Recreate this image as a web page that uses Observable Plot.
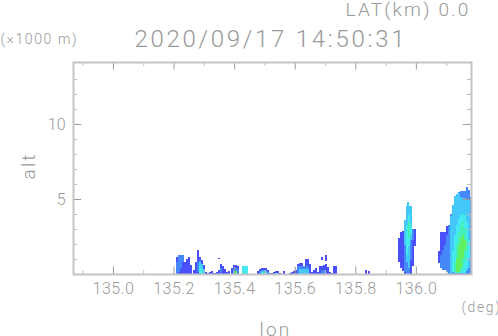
<!DOCTYPE html>
<html><head><meta charset="utf-8">
<script src="https://cdn.jsdelivr.net/npm/d3@7"></script>
<script src="https://cdn.jsdelivr.net/npm/@observablehq/plot@0.6"></script>
<style>html,body{margin:0;padding:0;background:#fff}svg{display:block}
.sp1 text{letter-spacing:1.6px}.sp2 text{letter-spacing:2.2px}.sp3 text{letter-spacing:2.7px}.spt text{letter-spacing:.5px}</style>
</head><body><div id="c"></div>
<script>
const lonTicks=[135.0,135.2,135.4,135.6,135.8,136.0];
const lonMinor=[134.9,135.1,135.3,135.5,135.7,135.9,136.1];
const altTicks=[5,10];
const altMinor=[1,2,3,4,6,7,8,9,11,12,13];
const lonDomain=[134.868,136.182];
const altDomain=[0,14.13];
const cellWidth=0.0066;

// each row: [lon, alt low, alt high]
const blue=[
[135.941,.8,2.4],[135.947,.4,2.8],[135.954,.2,2.87],[135.960,0,2.8],[135.967,0,3],[135.974,0,3],[135.980,0,3],[135.987,.53,3],[135.993,1.87,3],
[136.073,.73,1.53],[136.079,.4,2.8],[136.086,.27,2.8],[136.092,.27,2.8],[136.099,.13,3.2],[136.106,0,3.2],
[135.208,0,1.13],[135.215,0,1.27],[135.221,0,1.27],[135.228,0,1.27],[135.234,0,.8],[135.241,0,1],[135.248,0,1.13],[135.254,0,.6],
[135.264,0,.27],[135.271,0,.8],[135.277,0,1.6],[135.284,0,1.13],[135.290,0,.93],[135.297,0,.6],[135.304,0,.13],[135.310,0,.07],[135.317,0,.13],[135.323,0,.2],[135.330,0,.07],[135.337,0,.07],
[135.340,0,.13],[135.347,0,.27],[135.353,0,.67],[135.360,0,.53],[135.366,0,.33],[135.373,0,.13],[135.380,0,.2],[135.389,0,.4],[135.396,0,.6],[135.403,0,.6],[135.409,0,.53],
[135.475,0,.2],[135.482,0,.33],[135.488,0,.4],[135.495,0,.4],[135.502,0,.4],[135.508,0,.27],[135.515,0,.07],[135.521,0,.07],[135.528,0,.13],[135.535,0,.2],[135.541,0,.2],[135.548,0,.07],[135.561,0,.2],
[135.581,0,.07],[135.587,0,.13],[135.594,0,.2],[135.601,0,.27],[135.607,0,.67],[135.614,0,.73],[135.620,0,.73],[135.627,0,.53],[135.634,0,1],[135.640,0,1],[135.647,0,.67],[135.653,0,.13],[135.660,0,.27],[135.667,0,.4],[135.673,0,.13],[135.680,0,.53],[135.686,0,.53],[135.693,0,.6],[135.700,0,.67],[135.706,0,.47],[135.713,0,.13],[135.719,0,.07],[135.726,0,.53],[135.733,0,.53],
[135.686,.93,1.13],[135.700,.87,1.27],[135.347,1,1.07],[135.832,0,.27],[135.842,0,.2]
];
const medium=[
[135.960,.13,2.67],[135.967,0,3.47],[135.974,0,3.93],[135.980,.93,3.93],[135.987,2.27,3],
[136.079,.4,1.27],[136.086,.27,1.6],[136.092,.27,1.93],[136.099,.13,2.6],[136.106,0,3.27],[136.112,0,4],[136.119,0,4.6],[136.125,0,5.13],[136.132,0,5.33],[136.139,0,5.47],[136.145,0,5.53],[136.152,0,5.53],[136.158,0,5.53],[136.165,0,5.8],[136.172,0,5.6],[136.178,0,5.13],
[135.208,0,.8],[135.215,.13,1.27],[135.221,.4,1.27],[135.228,.8,1.27],
[135.277,.13,.8],[135.284,0,.93],[135.290,0,.67],[135.353,.07,.4],[135.396,0,.4],[135.403,0,.4],[135.409,0,.33],
[135.482,0,.2],[135.488,0,.27],[135.495,0,.27],[135.502,0,.27],[135.508,0,.13],
[135.607,0,.53],[135.614,0,.53],[135.620,0,.53],[135.627,0,.53],[135.634,0,.53],[135.640,0,.53],[135.687,0,.27],[135.693,0,.27]
];
const sky=[
[135.970,4.53,4.8],
[135.960,1.9,3.6],[135.967,.8,4.53],[135.974,.4,4.53],[135.980,2.27,4.53],
[136.112,0,3.87],[136.119,.13,4.6],[136.125,.07,5.2],[136.132,.07,5.33],[136.139,.07,5.4],[136.145,.07,5.13],[136.152,.07,5.07],[136.158,.07,5.07],[136.165,.2,4.93],[136.172,.4,4.93],
[135.284,0,.8],[135.290,0,.67],[135.297,0,.33],[135.396,0,.27],[135.403,0,.2],
[135.614,0,.33],[135.620,0,.33],[135.627,0,.33],[135.634,0,.33],[135.640,0,.33],
[135.488,0,.2],[135.495,0,.2],[135.502,0,.2]
];
const cyan=[
[135.967,1.27,3.27],[135.974,1.87,3.93],[135.980,2.6,3.4],
[136.119,.13,1.6],[136.125,.07,2.6],[136.132,.07,3.27],[136.139,.07,3.73],[136.145,.07,3.93],[136.152,.07,4],[136.158,.07,3.93],[136.165,.4,3.47],[136.172,1.07,2.27],
[135.284,0,.53],[135.290,0,.4],
[135.426,0,.53],[135.432,0,.53],[135.439,0,.53],
[135.488,0,.13],[135.495,0,.13],[135.535,0,.07],[135.541,0,.07]
];
const aqua=[
[135.974,2.4,3.47],
[136.125,.13,.8],[136.132,.07,2.07],[136.139,.07,2.8],[136.145,.13,3.27],[136.152,.4,3.47],[136.158,.8,3.07],[136.165,1.47,2.4]
];
const green=[
[136.132,.13,1.07],[136.139,.13,1.93],[136.145,.4,2.4],[136.152,1.07,2.6],[136.158,1.6,2.27],
[135.403,0,.2],[135.495,0,.07]
];
const layers=[[blue,"#4a50f8"],[medium,"#4488fa"],[sky,"#44c8fa"],[cyan,"#44eaee"],[aqua,"#44f0b8"],[green,"#60f060"]];

const fontFamily="Roboto, 'Liberation Sans', sans-serif";
const gray="#999";
const label=(s,o)=>Plot.text([s],{frameAnchor:"top-left",textAnchor:"start",fill:gray,fontWeight:300,...o});

const chart=Plot.plot({
  width:498,height:336,
  marginLeft:73,marginRight:27,marginTop:62,marginBottom:62,
  style:{background:"#fff",fontFamily},
  x:{domain:lonDomain},
  y:{domain:altDomain},
  marks:[
    ...layers.map(([rows,color])=>Plot.rect(rows,{
      x1:d=>d[0],x2:d=>d[0]+cellWidth,y1:d=>d[1],y2:d=>d[2],
      fill:color,shapeRendering:"crispEdges",clip:true,inset:0
    })),
    Plot.ruleX(lonTicks,{y1:0,y2:.5,stroke:"#999"}),
    Plot.ruleX(lonTicks,{y1:altDomain[1],y2:altDomain[1]-.5,stroke:"#999"}),
    Plot.ruleX(lonMinor,{y1:0,y2:.25,stroke:"#bbb"}),
    Plot.ruleX(lonMinor,{y1:altDomain[1],y2:altDomain[1]-.25,stroke:"#bbb"}),
    Plot.ruleY(altTicks,{x1:lonDomain[0],x2:lonDomain[0]+.027,stroke:"#999"}),
    Plot.ruleY(altTicks,{x1:lonDomain[1],x2:lonDomain[1]-.027,stroke:"#999"}),
    Plot.ruleY(altMinor,{x1:lonDomain[0],x2:lonDomain[0]+.013,stroke:"#bbb"}),
    Plot.ruleY(altMinor,{x1:lonDomain[1],x2:lonDomain[1]-.013,stroke:"#bbb"}),
    Plot.frame({stroke:"#c4c4c4",strokeWidth:2}),
    Plot.axisX(lonTicks,{tickSize:0,tickPadding:8,fontSize:16,fontWeight:300,color:gray,label:null,tickFormat:d=>d.toFixed(1),className:"spt"}),
    Plot.axisY(altTicks,{tickSize:0,tickPadding:8,fontSize:16,fontWeight:300,color:gray,label:null}),
    label("LAT(km) 0.0",{dx:345-73,dy:-60,fontSize:19,className:"sp2"}),
    label("2020/09/17 14:50:31",{dx:134-73,dy:29-62,fontSize:24,className:"sp3"}),
    label("(×1000 m)",{dx:-73,dy:34-62,fontSize:14,className:"sp1"}),
    label("(deg)",{dx:461-73,dy:302-62,fontSize:14,className:"sp1"}),
    label("lon",{dx:259-73,dy:322-62,fontSize:19,className:"sp2"}),
    Plot.text(["alt"],{frameAnchor:"top-left",dx:21-73,dy:179-62,rotate:-90,fill:gray,fontWeight:300,fontSize:19,className:"sp2"})
  ]
});
document.getElementById("c").appendChild(chart);
</script></body></html>
